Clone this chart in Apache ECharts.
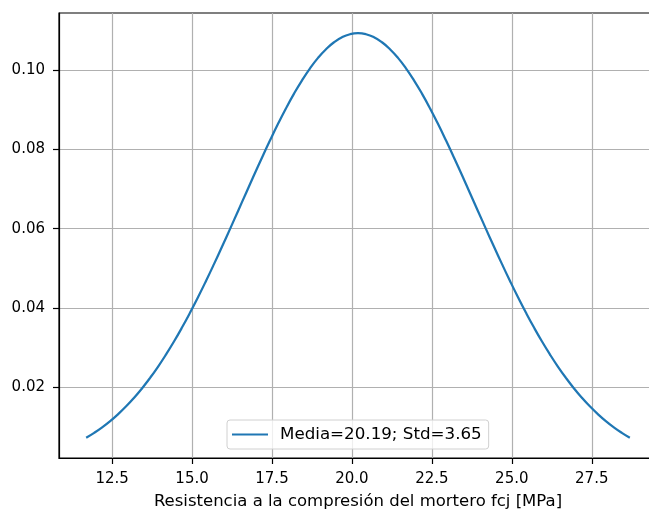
<!DOCTYPE html>
<html>
<head>
<meta charset="utf-8">
<script src="https://cdn.jsdelivr.net/npm/echarts@6/dist/echarts.min.js"></script>
<style>
  html, body { margin: 0; padding: 0; background: #fff; }
  #chart { width: 649px; height: 510px; }
</style>
</head>
<body>
<div id="chart"></div>
<script>
// Strength values (MPa) along the curve
const strength = [11.69, 11.94, 12.19, 12.44, 12.69, 12.94, 13.19, 13.44, 13.69, 13.94,
  14.19, 14.44, 14.69, 14.94, 15.19, 15.44, 15.69, 15.94, 16.19, 16.44, 16.69, 16.94,
  17.19, 17.44, 17.69, 17.94, 18.19, 18.44, 18.69, 18.94, 19.19, 19.44, 19.69, 19.94,
  20.19, 20.44, 20.69, 20.94, 21.19, 21.44, 21.69, 21.94, 22.19, 22.44, 22.69, 22.94,
  23.19, 23.44, 23.69, 23.94, 24.19, 24.44, 24.69, 24.94, 25.19, 25.44, 25.69, 25.94,
  26.19, 26.44, 26.69, 26.94, 27.19, 27.44, 27.69, 27.94, 28.19, 28.44, 28.69];
// Probability density at each strength value
const density = [0.00726, 0.00850, 0.00990, 0.01147, 0.01324, 0.01520, 0.01738, 0.01977,
  0.02239, 0.02523, 0.02831, 0.03160, 0.03512, 0.03885, 0.04277, 0.04687, 0.05112, 0.05549,
  0.05996, 0.06448, 0.06902, 0.07353, 0.07797, 0.08229, 0.08645, 0.09039, 0.09406, 0.09743,
  0.10045, 0.10308, 0.10527, 0.10702, 0.10828, 0.10904, 0.10930,
  0.10904, 0.10828, 0.10702, 0.10527, 0.10308, 0.10045, 0.09743, 0.09406, 0.09039, 0.08645,
  0.08229, 0.07797, 0.07353, 0.06902, 0.06448, 0.05996, 0.05549, 0.05112, 0.04687, 0.04277,
  0.03885, 0.03512, 0.03160, 0.02831, 0.02523, 0.02239, 0.01977, 0.01738, 0.01520, 0.01324,
  0.01147, 0.00990, 0.00850, 0.00726];
const xTicks = [12.5, 15.0, 17.5, 20.0, 22.5, 25.0, 27.5];
const yTicks = [0.02, 0.04, 0.06, 0.08, 0.10];
const seriesName = 'Media=20.19; Std=3.65';
const xTitle = 'Resistencia a la compresión del mortero fcj [MPa]';

const font = 'DejaVu Sans';
const chart = echarts.init(document.getElementById('chart'), null, { renderer: 'canvas' });

chart.setOption({
  animation: false,
  backgroundColor: '#fff',
  grid: {
    left: 59, top: 13, width: 598, height: 445,
    outerBoundsMode: 'none',
    containLabel: false,
    show: true, borderColor: '#000', borderWidth: 1.2, backgroundColor: 'transparent'
  },
  legend: {
    left: 227, top: 420,
    padding: [6, 7, 6, 5],
    itemWidth: 36, itemHeight: 2, itemGap: 10,
    icon: 'rect',
    backgroundColor: 'rgba(255,255,255,0.8)',
    borderColor: '#d0d0d0', borderWidth: 1, borderRadius: 3,
    textStyle: { fontFamily: font, fontSize: 16.7, color: '#000', padding: [0, 0, 0, 7], lineHeight: 17 },
    data: [seriesName]
  },
  xAxis: {
    type: 'value',
    min: 10.84, max: 29.54,
    name: xTitle, nameLocation: 'middle', nameGap: 35,
    nameTextStyle: { fontFamily: font, fontSize: 16.5, color: '#000' },
    axisLine: { show: true, onZero: false, lineStyle: { color: '#000', width: 1.2 } },
    axisTick: { show: true, inside: false, length: 6, lineStyle: { color: '#000', width: 1.2 }, customValues: xTicks },
    axisLabel: {
      customValues: xTicks, margin: 14,
      fontFamily: font, fontSize: 15, color: '#000',
      formatter: v => v.toFixed(1)
    },
    splitLine: { show: true, lineStyle: { color: '#b0b0b0', width: 1.2 } }
  },
  yAxis: {
    type: 'value',
    min: 0.00216, max: 0.1144,
    axisLine: { show: true, onZero: false, lineStyle: { color: '#000', width: 1.2 } },
    axisTick: { show: true, inside: false, length: 6, lineStyle: { color: '#000', width: 1.2 }, customValues: yTicks },
    axisLabel: {
      customValues: yTicks, margin: 14,
      fontFamily: font, fontSize: 15, color: '#000',
      formatter: v => v.toFixed(2)
    },
    splitLine: { show: true, lineStyle: { color: '#b0b0b0', width: 1.2 } }
  },
  series: [{
    name: seriesName,
    type: 'line',
    data: strength.map((x, i) => [x, density[i]]),
    smooth: true,
    symbol: 'none',
    itemStyle: { color: '#1f77b4' },
    lineStyle: { color: '#1f77b4', width: 2.25 }
  }]
});
</script>
</body>
</html>
